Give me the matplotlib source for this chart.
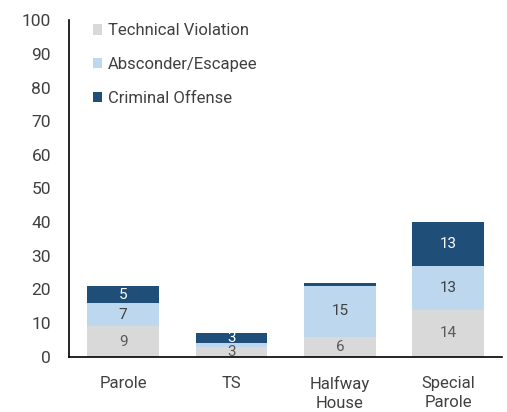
import numpy as np
import matplotlib.pyplot as plt

plt.rcParams['font.family'] = ['Roboto', 'DejaVu Sans']

# data
categories = ['Parole', 'TS', 'Halfway\nHouse', 'Special\nParole']
technical = [9, 3, 6, 14]
absconder = [7, 1, 15, 13]
criminal = [5, 3, 1, 13]

series = [
    ('Technical Violation', technical, '#D9D9D9', '#595959'),
    ('Absconder/Escapee', absconder, '#BDD7EE', '#404040'),
    ('Criminal Offense', criminal, '#1F4E79', 'white'),
]

fig = plt.figure(figsize=(5.07, 4.12), dpi=100)
ax = fig.add_axes([0.136, 0.134, 0.855, 0.817])

x = np.arange(len(categories))
bottom = np.zeros(len(categories))
for name, vals, color, tcolor in series:
    vals = np.array(vals, dtype=float)
    bars = ax.bar(x, vals, 0.66, bottom=bottom, color=color, label=name)
    for xi, b, v in zip(x, bottom, vals):
        if v >= 3:
            ax.text(xi, b + v / 2, f'{v:g}', ha='center', va='center',
                    fontsize=11, color=tcolor)
    bottom += vals

ax.set_xlim(-0.5, 3.5)
ax.set_ylim(0, 100)
ax.set_yticks(range(0, 101, 10))
ax.set_xticks(x)
ax.set_xticklabels(categories, fontsize=12, color='#404040', linespacing=1.3)
ax.tick_params(axis='y', labelsize=12.5, labelcolor='#404040', length=0, pad=13)
ax.tick_params(axis='x', length=0, pad=14)
for s in ['top', 'right']:
    ax.spines[s].set_visible(False)
for s in ['left', 'bottom']:
    ax.spines[s].set_color('black')
    ax.spines[s].set_linewidth(1.2)

leg = ax.legend(loc='upper left', bbox_to_anchor=(0.02, 1.035), frameon=False,
                fontsize=12, handlelength=0.55, handleheight=0.55,
                handletextpad=0.35, labelspacing=1.12, labelcolor='#404040')

fig.savefig('out.png', dpi=100)
